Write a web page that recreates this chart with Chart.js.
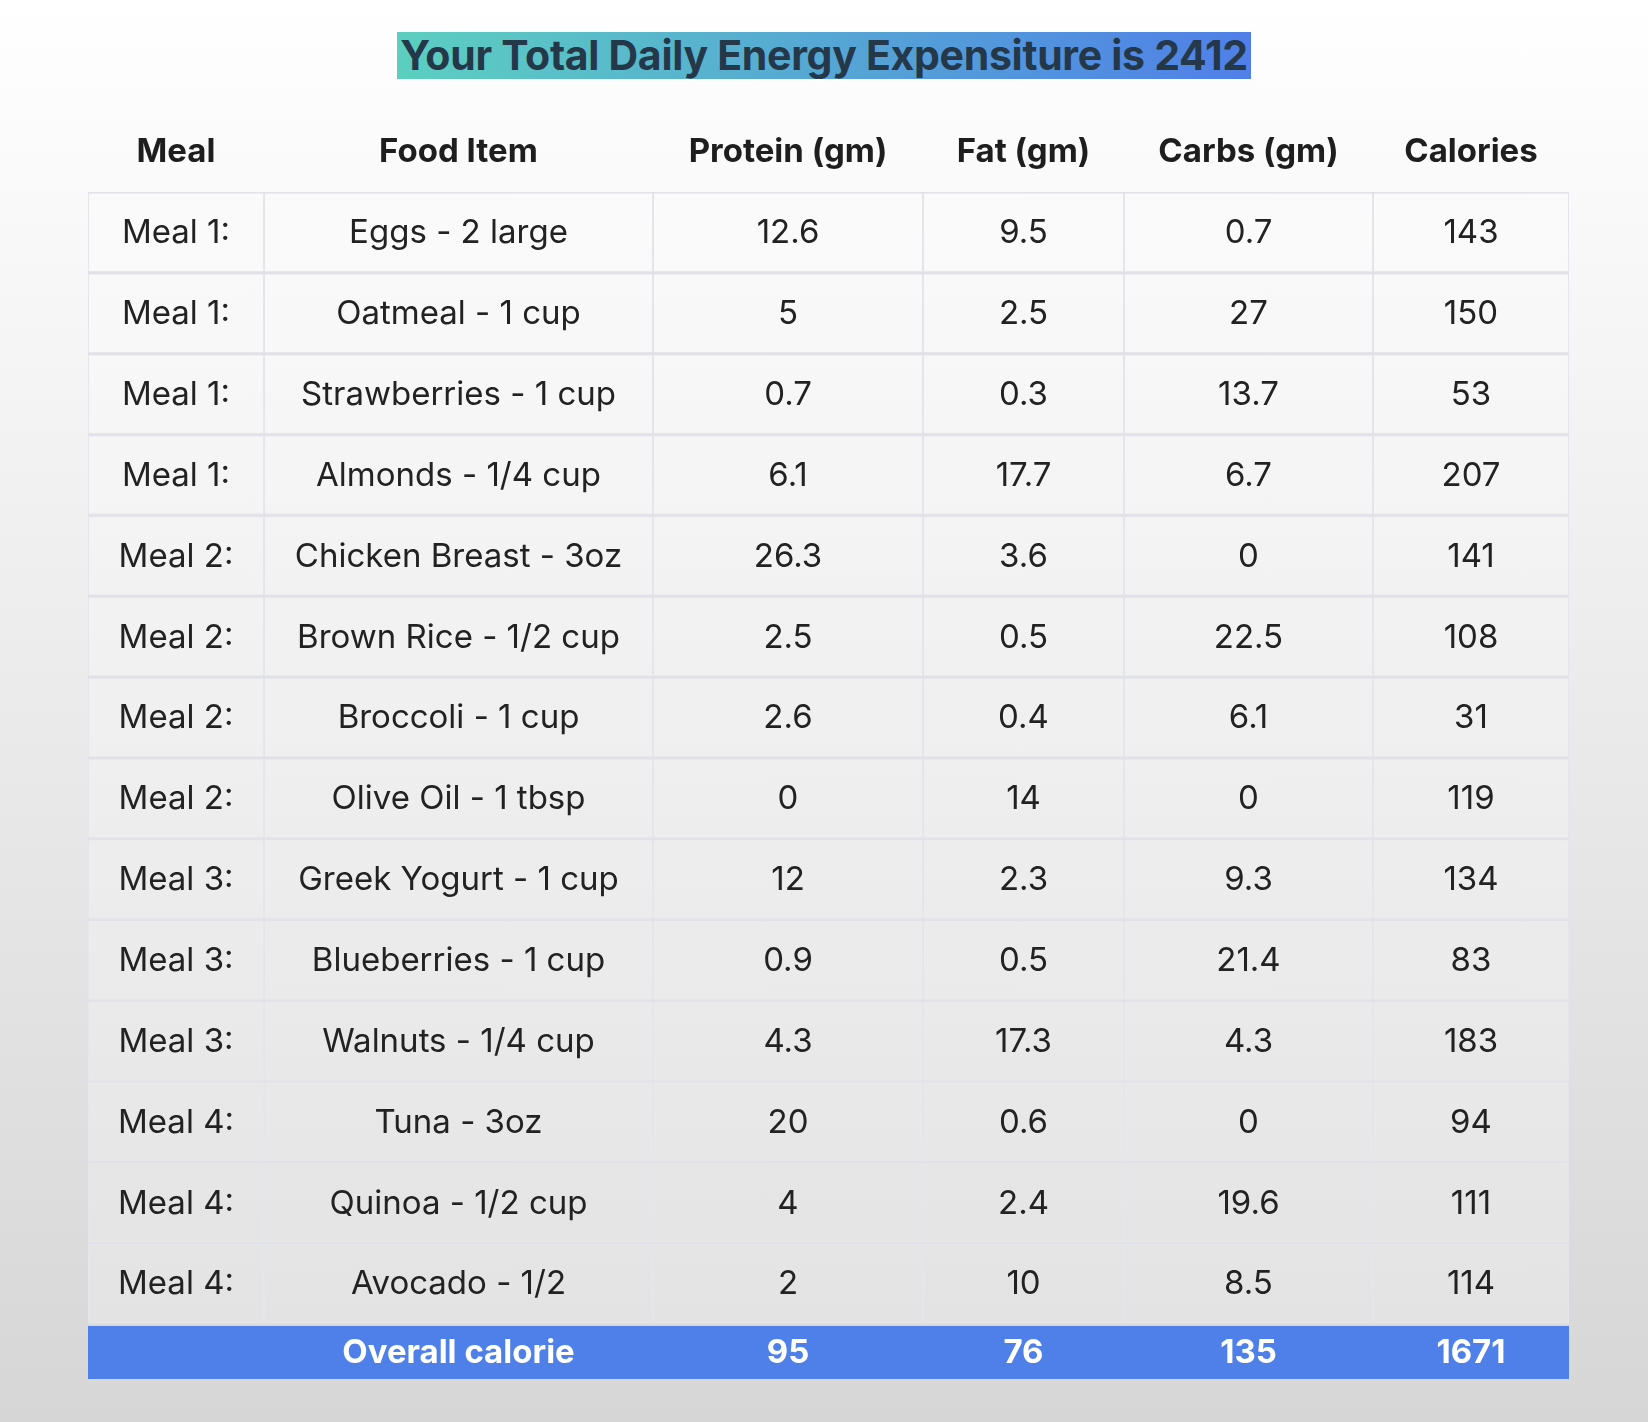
<!DOCTYPE html>
<html>
<head>
<meta charset="utf-8">
<script src="https://cdn.jsdelivr.net/npm/chart.js@4"></script>
<style>
  html, body { margin: 0; padding: 0; }
  body { width: 1648px; height: 1422px; background: linear-gradient(#ffffff, #d6d6d6); position: relative; overflow: hidden; font-family: Inter, "Noto Sans", sans-serif; }
  #title { position: absolute; top: 32px; left: 0; width: 1648px; text-align: center; }
  #title span { display: inline-block; padding: 0 3px; height: 47px; line-height: 47px; font-size: 41px; font-weight: 700; color: #24384a;
    background: linear-gradient(90deg, #5ccfc0, #4f7fe8); letter-spacing: -0.3px; }
  canvas { position: absolute; left: 0; top: 0; }
</style>
</head>
<body>
<div id="title"><span>Your Total Daily Energy Expensiture is 2412</span></div>
<canvas id="tableChart" width="1648" height="1422"></canvas>
<script>
// table contents
var headers = ["Meal", "Food Item", "Protein (gm)", "Fat (gm)", "Carbs (gm)", "Calories"];
var meals = ["Meal 1:", "Meal 1:", "Meal 1:", "Meal 1:", "Meal 2:", "Meal 2:", "Meal 2:", "Meal 2:", "Meal 3:", "Meal 3:", "Meal 3:", "Meal 4:", "Meal 4:", "Meal 4:"];
var foods = ["Eggs - 2 large", "Oatmeal - 1 cup", "Strawberries - 1 cup", "Almonds - 1/4 cup", "Chicken Breast - 3oz", "Brown Rice - 1/2 cup", "Broccoli - 1 cup", "Olive Oil - 1 tbsp", "Greek Yogurt - 1 cup", "Blueberries - 1 cup", "Walnuts - 1/4 cup", "Tuna - 3oz", "Quinoa - 1/2 cup", "Avocado - 1/2"];
var protein = ["12.6", "5", "0.7", "6.1", "26.3", "2.5", "2.6", "0", "12", "0.9", "4.3", "20", "4", "2"];
var fat = ["9.5", "2.5", "0.3", "17.7", "3.6", "0.5", "0.4", "14", "2.3", "0.5", "17.3", "0.6", "2.4", "10"];
var carbs = ["0.7", "27", "13.7", "6.7", "0", "22.5", "6.1", "0", "9.3", "21.4", "4.3", "0", "19.6", "8.5"];
var calories = ["143", "150", "53", "207", "141", "108", "31", "119", "134", "83", "183", "94", "111", "114"];
var totals = ["", "Overall calorie", "95", "76", "135", "1671"];

// column widths in pixels (layout)
var colWidths = [176, 389, 270, 201, 249, 196];
var columns = [meals, foods, protein, fat, carbs, calories];

var FONT = 'Inter, "Noto Sans", sans-serif';

var cellText = {
    id: 'cellText',
    afterDatasetsDraw: function(chart) {
        var c = chart.ctx;
        var area = chart.chartArea;
        c.save();
        c.textAlign = 'center';
        c.textBaseline = 'middle';
        chart.data.datasets.forEach(function(ds, di) {
            var meta = chart.getDatasetMeta(di);
            meta.data.forEach(function(bar, i) {
                var cx = (bar.x + bar.base) / 2;
                c.fillStyle = '#222';
                c.font = '400 33px ' + FONT;
                c.fillText(columns[di][i], cx, bar.y + 1);
                if (i === 0) {
                    c.font = '700 33px ' + FONT;
                    c.fillStyle = '#1e1e1e';
                    c.fillText(headers[di], cx, area.top - 40);
                }
            });
        });
        // total row
        var top = area.bottom + 2, h = 53;
        c.fillStyle = '#4f80ea';
        c.fillRect(area.left, top, area.right - area.left, h);
        c.fillStyle = '#ffffff';
        c.font = '700 33px ' + FONT;
        chart.data.datasets.forEach(function(ds, di) {
            var bar = chart.getDatasetMeta(di).data[0];
            c.fillText(totals[di], (bar.x + bar.base) / 2, top + h / 2 + 1);
        });
        c.restore();
    }
};

var ctx = document.getElementById("tableChart");
var tableChart = new Chart(ctx, {
    type: 'bar',
    data: {
        labels: foods,
        datasets: headers.map(function(h, di) {
            return {
                label: h,
                data: foods.map(function() { return colWidths[di]; }),
                backgroundColor: 'rgba(255,255,255,0.28)',
                borderColor: '#e1e1e7',
                borderWidth: { top: 1.5, bottom: 1.5, left: 0.75, right: 0.75 },
                borderSkipped: false,
                categoryPercentage: 1,
                barPercentage: 1
            };
        })
    },
    options: {
        indexAxis: 'y',
        responsive: false,
        animation: false,
        devicePixelRatio: 1,
        layout: { padding: { left: 88, right: 79, top: 192, bottom: 98 } },
        plugins: { legend: { display: false }, tooltip: { enabled: false } },
        scales: {
            x: { stacked: true, display: false, min: 0, max: 1481 },
            y: { stacked: true, display: false }
        }
    },
    plugins: [cellText]
});
</script>
</body>
</html>
